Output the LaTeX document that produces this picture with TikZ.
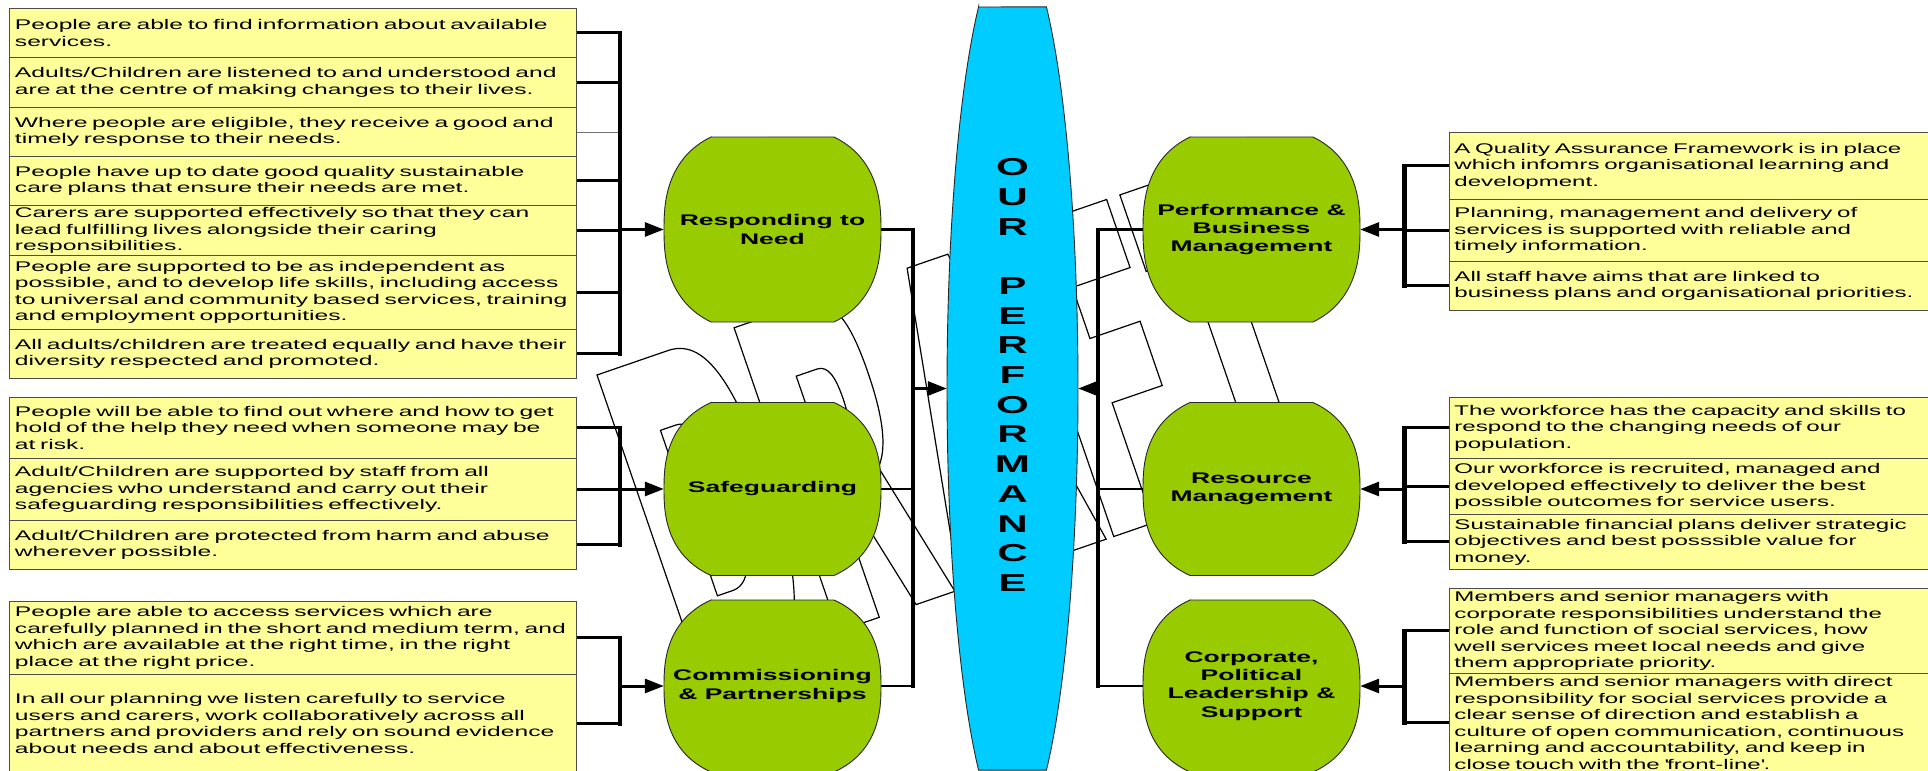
\documentclass[tikz,border=0pt]{standalone}
\usepackage{fontspec}
\setmainfont{Liberation Sans}[FakeStretch=1.72]
\newfontfamily\leftboxfont{Liberation Sans}[FakeStretch=1.76]
\usetikzlibrary{arrows.meta}
\definecolor{gfill}{HTML}{99CC00}
\definecolor{bfill}{HTML}{00CCFF}
\definecolor{yfill}{HTML}{FFFF99}
\newcommand\tx[1]{\mbox{#1}}
% shape parameters: \cape = 2/n (superellipse exponent), \capk = b/halfheight, \capt = corner angle
\def\cape{0.8}\def\capk{1.1166}\def\capt{60.6}
% #1 name, #2 cx, #3 cy, #4 x radius, #5 half height, #6 fill, #7 label
\newcommand\capsule[7]{%
  \pgfmathsetmacro\capry{#5*\capk}%
  \pgfmathsetmacro\capa{-\capt}%
  \pgfmathsetmacro\capb{180-\capt}%
  \pgfmathsetmacro\capc{180+\capt}%
  \pgfmathsetmacro\capdx{#4*abs(cos(\capt))^\cape}%
  \filldraw[fill=#6, draw=black!85, line width=0.9pt]
    ({#2-\capdx},{#3-#5})
    -- plot[domain=\capa:\capt, samples=50, variable=\t]
       ({#2+#4*sign(cos(\t))*abs(cos(\t))^\cape},{#3+\capry*sign(sin(\t))*abs(sin(\t))^\cape})
    -- plot[domain=\capb:\capc, samples=50, variable=\t]
       ({#2+#4*sign(cos(\t))*abs(cos(\t))^\cape},{#3+\capry*sign(sin(\t))*abs(sin(\t))^\cape})
    -- cycle;
  \node[glabel, minimum width={2*#4}, minimum height={2*#5}] (#1) at (#2,#3) {#7};
}
\begin{document}
\begin{tikzpicture}[x=1pt, y=-1pt,
  row/.style={draw=black!70, line width=0.9pt, fill=yfill, anchor=north west, align=left,
    inner xsep=5.5pt, inner ysep=0pt},
  lrow/.style={row, text width=556pt, font=\leftboxfont\fontsize{14}{16.5}\selectfont},
  rrow/.style={row, text width=468pt, font=\fontsize{14}{16.5}\selectfont},
  glabel/.style={font=\bfseries\fontsize{15.4}{18.2}\selectfont, align=center, inner sep=0pt},
  tick/.style={line width=3pt},
  thin link/.style={line width=0.8pt, draw=black!55},
  brace/.style={line width=4.8pt, line cap=rect},
  feed/.style={line width=3pt, -{Triangle[length=19pt,width=14pt]}},
  link/.style={line width=2.2pt},
  trunk/.style={line width=4pt, line cap=rect},
  wm/.style={draw=black, line width=1.2pt, line join=miter}
]
\useasboundingbox (0,0) rectangle (1928,771);
\fill[white] (0,0) rectangle (1928,771);

% ---------- DRAFT watermark (outlined, rotated) ----------
\begin{scope}[shift={(701.5,678.5)}, x={(0.9455pt,0.3256pt)}, y={(-0.3256pt,0.9455pt)}]
  % D
  \draw[wm] (0,0) -- (0,321) -- (75,321) .. controls (112,321) and (128,275) .. (128,160)
        .. controls (128,60) and (105,0) .. (75,0) -- cycle;
  \draw[wm] (42,73) -- (42,248) -- (58,248) .. controls (80,248) and (88,215) .. (88,160)
        .. controls (88,105) and (80,73) .. (58,73) -- cycle;
  % R
  \draw[wm] (145,0) -- (145,321) -- (213,321) .. controls (245,321) and (257,300) .. (257,235)
        .. controls (257,180) and (248,155) .. (236,142) -- (268,0) -- (227,0) -- (200,118)
        -- (188,118) -- (188,0) -- cycle;
  \draw[wm] (188,182) -- (188,255) -- (210,255) .. controls (222,255) and (225,240) .. (225,218)
        .. controls (225,195) and (220,182) .. (208,182) -- cycle;
  % A
  \draw[wm] (273,0) -- (328,321) -- (371,321) -- (428,0) -- (386,0) -- (376,62) -- (323,62)
        -- (313,0) -- cycle;
  \draw[wm] (331,112) -- (349,235) -- (368,112) -- cycle;
  % F
  \draw[wm] (436,0) -- (436,321) -- (539,321) -- (539,249) -- (478,249) -- (478,195) -- (531,195)
        -- (531,127) -- (478,127) -- (478,0) -- cycle;
  % T
  \draw[wm] (553,321) -- (677,321) -- (677,240) -- (636,240) -- (636,0) -- (595,0) -- (595,240)
        -- (553,240) -- cycle;
\end{scope}

% ---------- central shapes ----------
\capsule{resp}{772.5}{229.5}{108.5}{92.5}{gfill}{Responding to\\Need}
\capsule{safe}{772.5}{489}{108.5}{86.5}{gfill}{Safeguarding}
\capsule{comm}{772.5}{686}{108.5}{86}{gfill}{Commissioning\\\& Partnerships}
\capsule{pbm}{1251.5}{229.5}{108.5}{92.5}{gfill}{Performance \&\\Business\\Management}
\capsule{res}{1251.5}{489}{108.5}{86.5}{gfill}{Resource\\Management}
\capsule{corp}{1251.5}{686}{108.5}{86}{gfill}{Corporate,\\Political\\Leadership \&\\Support}
\def\cape{1}\def\capk{1.1696}\def\capt{58.8}
\capsule{perf}{1012.5}{388.5}{65.5}{381.5}{bfill}{}
\node[font=\bfseries\fontsize{24.5}{29.7}\selectfont, align=center, inner sep=0pt] (perftext)
  at (1012.5,375) {O\\U\\R\\[29.7pt]P\\E\\R\\F\\O\\R\\M\\A\\N\\C\\E};

% ---------- left outcome boxes ----------
\node[lrow, minimum height=49pt] (L1a) at (9,8) {\tx{People are able to find information about available}\\\tx{services.}};
\node[lrow, minimum height=50pt] (L1b) at (9,57) {\tx{Adults/Children are listened to and understood and}\\\tx{are at the centre of making changes to their lives.}};
\node[lrow, minimum height=49pt] (L1c) at (9,107) {\tx{Where people are eligible, they receive a good and}\\\tx{timely response to their needs.}};
\node[lrow, minimum height=49pt] (L1d) at (9,156) {\tx{People have up to date good quality sustainable}\\\tx{care plans that ensure their needs are met.}};
\node[lrow, minimum height=50pt] (L1e) at (9,205) {\tx{Carers are supported effectively so that they can}\\\tx{lead fulfilling lives alongside their caring}\\\tx{responsibilities.}};
\node[lrow, minimum height=74pt] (L1f) at (9,255) {\tx{People are supported to be as independent as}\\\tx{possible, and to develop life skills, including access}\\\tx{to universal and community based services, training}\\\tx{and employment opportunities.}};
\node[lrow, minimum height=49pt] (L1g) at (9,329) {\tx{All adults/children are treated equally and have their}\\\tx{diversity respected and promoted.}};

\node[lrow, minimum height=61pt] (L2a) at (9,397) {\tx{People will be able to find out where and how to get}\\\tx{hold of the help they need when someone may be}\\\tx{at risk.}};
\node[lrow, minimum height=62pt] (L2b) at (9,458) {\tx{Adult/Children are supported by staff from all}\\\tx{agencies who understand and carry out their}\\\tx{safeguarding responsibilities effectively.}};
\node[lrow, minimum height=49pt] (L2c) at (9,520) {\tx{Adult/Children are protected from harm and abuse}\\\tx{wherever possible.}};

\node[lrow, minimum height=73pt] (L3a) at (9,601) {\tx{People are able to access services which are}\\\tx{carefully planned in the short and medium term, and}\\\tx{which are available at the right time, in the right}\\\tx{place at the right price.}};
\node[lrow, minimum height=98pt] (L3b) at (9,674) {\tx{In all our planning we listen carefully to service}\\\tx{users and carers, work collaboratively across all}\\\tx{partners and providers and rely on sound evidence}\\\tx{about needs and about effectiveness.}};

% ---------- right outcome boxes ----------
\node[rrow, minimum height=67pt] (R1a) at (1448.5,132) {\tx{A Quality Assurance Framework is in place}\\\tx{which infomrs organisational learning and}\\\tx{development.}};
\node[rrow, minimum height=62pt] (R1b) at (1448.5,199) {\tx{Planning, management and delivery of}\\\tx{services is supported with reliable and}\\\tx{timely information.}};
\node[rrow, minimum height=49pt] (R1c) at (1448.5,261) {\tx{All staff have aims that are linked to}\\\tx{business plans and organisational priorities.}};

\node[rrow, minimum height=61pt] (R2a) at (1448.5,397) {\tx{The workforce has the capacity and skills to}\\\tx{respond to the changing needs of our}\\\tx{population.}};
\node[rrow, minimum height=56pt] (R2b) at (1448.5,458) {\tx{Our workforce is recruited, managed and}\\\tx{developed effectively to deliver the best}\\\tx{possible outcomes for service users.}};
\node[rrow, minimum height=55pt] (R2c) at (1448.5,514) {\tx{Sustainable financial plans deliver strategic}\\\tx{objectives and best posssible value for}\\\tx{money.}};

\node[rrow, minimum height=85pt] (R3a) at (1448.5,588) {\tx{Members and senior managers with}\\\tx{corporate responsibilities understand the}\\\tx{role and function of social services, how}\\\tx{well services meet local needs and give}\\\tx{them appropriate priority.}};
\node[rrow, minimum height=99pt] (R3b) at (1448.5,673) {\tx{Members and senior managers with direct}\\\tx{responsibility for social services provide a}\\\tx{clear sense of direction and establish a}\\\tx{culture of open communication, continuous}\\\tx{learning and accountability, and keep in}\\\tx{close touch with the \textquotesingle front-line\textquotesingle.}};

% ---------- connectors ----------
\coordinate (lb) at (620,0);
\coordinate (lt) at (913,0);
\coordinate (rt) at (1098,0);
\coordinate (rb) at (1404.7,0);

% left group 1
\foreach \r in {L1a,L1b,L1d,L1e,L1f,L1g} \draw[tick] (\r.east) -- (\r.east -| lb);
\draw[thin link] (L1c.east) -- (L1c.east -| lb);
\draw[brace] (L1a.east -| lb) -- (L1g.east -| lb);
\draw[feed] (resp.west -| lb) -- (resp.west);
% left group 2
\foreach \r in {L2a,L2b,L2c} \draw[tick] (\r.east) -- (\r.east -| lb);
\draw[brace] (L2a.east -| lb) -- (L2c.east -| lb);
\draw[feed] (safe.west -| lb) -- (safe.west);
% left group 3
\foreach \r in {L3a,L3b} \draw[tick] (\r.east) -- (\r.east -| lb);
\draw[brace] (L3a.east -| lb) -- (L3b.east -| lb);
\draw[feed] (comm.west -| lb) -- (comm.west);

% left trunk
\foreach \n in {resp,safe,comm} \draw[link] (\n.east) -- (\n.east -| lt);
\draw[trunk] (resp.east -| lt) -- (comm.east -| lt);
\draw[feed] (perf.west -| lt) -- (perf.west);

% right trunk
\foreach \n in {pbm,res,corp} \draw[link] (\n.west) -- (\n.west -| rt);
\draw[trunk] (pbm.west -| rt) -- (corp.west -| rt);
\draw[feed] (perf.east -| rt) -- (perf.east);

% right group 1
\foreach \r in {R1a,R1b,R1c} \draw[tick] (\r.west) -- (\r.west -| rb);
\draw[brace] (R1a.west -| rb) -- (R1c.west -| rb);
\draw[feed] (pbm.east -| rb) -- (pbm.east);
% right group 2
\foreach \r in {R2a,R2b,R2c} \draw[tick] (\r.west) -- (\r.west -| rb);
\draw[brace] (R2a.west -| rb) -- (R2c.west -| rb);
\draw[feed] (res.east -| rb) -- (res.east);
% right group 3
\foreach \r in {R3a,R3b} \draw[tick] (\r.west) -- (\r.west -| rb);
\draw[brace] (R3a.west -| rb) -- (R3b.west -| rb);
\draw[feed] (corp.east -| rb) -- (corp.east);
\end{tikzpicture}
\end{document}
